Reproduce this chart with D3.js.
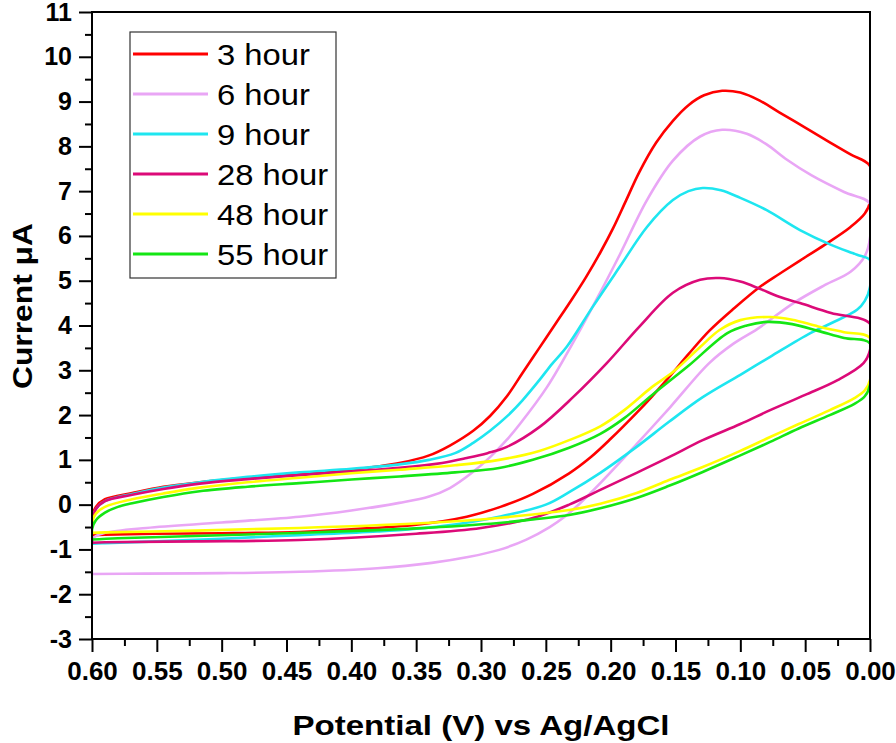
<!DOCTYPE html>
<html><head><meta charset="utf-8">
<script src="https://cdn.jsdelivr.net/npm/d3@7"></script>
<style>body{margin:0;background:#fff}svg{display:block}</style>
</head><body>
<svg id="chart" width="896" height="743"></svg>
<script>
// ---------- data ----------
const seriesNames = ["3 hour", "6 hour", "9 hour", "28 hour", "48 hour", "55 hour"];
const seriesColors = ["#ff0000", "#e9a6f5", "#1ee6f0", "#dc0a78", "#ffff00", "#14e614"];
const xTickLabels = [0.60, 0.55, 0.50, 0.45, 0.40, 0.35, 0.30, 0.25, 0.20, 0.15, 0.10, 0.05, 0.00];
const xMinorTicks = [0.575, 0.525, 0.475, 0.425, 0.375, 0.325, 0.275, 0.225, 0.175, 0.125, 0.075, 0.025];
const yTickLabels = [-3, -2, -1, 0, 1, 2, 3, 4, 5, 6, 7, 8, 9, 10, 11];
const yMinorTicks = [-2.5, -1.5, -0.5, 0.5, 1.5, 2.5, 3.5, 4.5, 5.5, 6.5, 7.5, 8.5, 9.5, 10.5];

// potential (V), current (µA) — each loop: forward sweep 0.6 -> 0, then back 0 -> 0.6
const cv3h = [[0.600,-0.68],[0.600,-0.30],[0.597,-0.05],[0.590,0.12],[0.569,0.26],[0.545,0.40],[0.517,0.50],[0.480,0.60],[0.440,0.68],[0.400,0.78],[0.363,0.93],[0.340,1.10],[0.324,1.32],[0.306,1.65],[0.293,1.98],[0.280,2.42],[0.268,2.94],[0.255,3.50],[0.242,4.06],[0.230,4.58],[0.219,5.08],[0.208,5.63],[0.198,6.18],[0.188,6.80],[0.178,7.42],[0.165,8.08],[0.152,8.57],[0.140,8.92],[0.128,9.14],[0.114,9.24],[0.100,9.20],[0.085,9.02],[0.070,8.76],[0.050,8.42],[0.031,8.09],[0.015,7.82],[0.000,7.56],
  [0.000,6.75],[0.004,6.50],[0.015,6.20],[0.035,5.80],[0.054,5.45],[0.070,5.15],[0.085,4.86],[0.105,4.38],[0.124,3.88],[0.140,3.36],[0.154,2.88],[0.168,2.42],[0.180,2.05],[0.200,1.47],[0.215,1.07],[0.232,0.70],[0.260,0.24],[0.285,-0.05],[0.311,-0.27],[0.350,-0.45],[0.400,-0.55],[0.440,-0.61],[0.500,-0.64],[0.550,-0.65],[0.590,-0.67],[0.600,-0.68]];
const cv6h = [[0.600,-1.55],[0.600,-0.85],[0.598,-0.72],[0.590,-0.63],[0.558,-0.52],[0.500,-0.40],[0.440,-0.27],[0.400,-0.13],[0.363,0.04],[0.340,0.18],[0.324,0.37],[0.307,0.71],[0.293,1.06],[0.280,1.45],[0.270,1.80],[0.249,2.63],[0.229,3.62],[0.208,4.74],[0.193,5.58],[0.172,6.80],[0.152,7.68],[0.131,8.22],[0.114,8.37],[0.095,8.28],[0.080,8.05],[0.064,7.70],[0.045,7.35],[0.020,6.98],[0.000,6.72],
  [0.000,5.95],[0.004,5.55],[0.015,5.20],[0.035,4.90],[0.059,4.50],[0.087,3.92],[0.105,3.60],[0.124,3.16],[0.154,2.18],[0.180,1.35],[0.208,0.48],[0.224,0.02],[0.235,-0.26],[0.247,-0.50],[0.265,-0.78],[0.286,-1.01],[0.310,-1.17],[0.338,-1.30],[0.380,-1.42],[0.440,-1.50],[0.500,-1.53],[0.560,-1.54],[0.600,-1.55]];
const cv9h = [[0.600,-0.87],[0.600,-0.40],[0.597,-0.10],[0.590,0.08],[0.569,0.24],[0.545,0.38],[0.517,0.50],[0.480,0.62],[0.440,0.72],[0.400,0.80],[0.363,0.90],[0.340,1.00],[0.320,1.15],[0.306,1.38],[0.293,1.65],[0.280,1.97],[0.268,2.33],[0.255,2.78],[0.245,3.15],[0.234,3.52],[0.214,4.41],[0.193,5.31],[0.172,6.20],[0.152,6.80],[0.140,7.00],[0.129,7.07],[0.115,7.02],[0.100,6.85],[0.080,6.58],[0.054,6.13],[0.030,5.80],[0.010,5.58],[0.000,5.46],
  [0.000,4.86],[0.004,4.55],[0.010,4.35],[0.030,4.05],[0.046,3.83],[0.077,3.30],[0.100,2.90],[0.129,2.40],[0.155,1.85],[0.180,1.29],[0.208,0.71],[0.232,0.28],[0.250,0.00],[0.286,-0.27],[0.330,-0.48],[0.380,-0.60],[0.440,-0.68],[0.500,-0.76],[0.550,-0.82],[0.590,-0.86],[0.600,-0.87]];
const cv28h = [[0.600,-0.85],[0.600,-0.40],[0.597,-0.10],[0.590,0.08],[0.569,0.22],[0.545,0.35],[0.517,0.47],[0.480,0.57],[0.440,0.66],[0.400,0.74],[0.363,0.82],[0.330,0.93],[0.311,1.04],[0.295,1.15],[0.280,1.29],[0.255,1.73],[0.229,2.40],[0.203,3.16],[0.178,3.97],[0.152,4.73],[0.131,5.02],[0.116,5.06],[0.100,4.98],[0.085,4.82],[0.070,4.64],[0.054,4.50],[0.030,4.28],[0.000,4.04],
  [0.000,3.45],[0.005,3.16],[0.025,2.78],[0.050,2.45],[0.077,2.11],[0.100,1.80],[0.129,1.44],[0.155,1.06],[0.180,0.71],[0.208,0.33],[0.232,0.00],[0.260,-0.30],[0.300,-0.52],[0.350,-0.65],[0.440,-0.79],[0.520,-0.82],[0.590,-0.84],[0.600,-0.85]];
const cv48h = [[0.600,-0.63],[0.600,-0.40],[0.597,-0.20],[0.590,-0.05],[0.569,0.12],[0.545,0.25],[0.517,0.38],[0.480,0.50],[0.440,0.60],[0.400,0.70],[0.363,0.78],[0.320,0.88],[0.286,1.00],[0.255,1.20],[0.232,1.44],[0.208,1.75],[0.190,2.10],[0.168,2.63],[0.152,2.96],[0.131,3.52],[0.116,3.90],[0.100,4.12],[0.077,4.19],[0.060,4.13],[0.040,3.98],[0.020,3.85],[0.000,3.72],
  [0.000,2.78],[0.004,2.55],[0.012,2.38],[0.031,2.11],[0.055,1.80],[0.077,1.51],[0.100,1.20],[0.129,0.84],[0.155,0.55],[0.180,0.26],[0.208,0.02],[0.232,-0.12],[0.260,-0.22],[0.300,-0.33],[0.350,-0.42],[0.440,-0.52],[0.520,-0.58],[0.590,-0.62],[0.600,-0.63]];
const cv55h = [[0.600,-0.78],[0.600,-0.55],[0.597,-0.35],[0.590,-0.18],[0.580,-0.05],[0.569,0.03],[0.545,0.17],[0.517,0.30],[0.480,0.40],[0.440,0.48],[0.400,0.56],[0.363,0.63],[0.320,0.72],[0.286,0.82],[0.260,1.00],[0.232,1.27],[0.208,1.58],[0.190,1.92],[0.168,2.45],[0.140,3.10],[0.110,3.83],[0.095,4.00],[0.080,4.08],[0.060,4.03],[0.040,3.88],[0.020,3.72],[0.000,3.60],
  [0.000,2.67],[0.004,2.42],[0.012,2.25],[0.031,2.00],[0.055,1.70],[0.077,1.40],[0.100,1.10],[0.129,0.73],[0.155,0.42],[0.180,0.15],[0.208,-0.08],[0.232,-0.23],[0.260,-0.33],[0.286,-0.41],[0.350,-0.53],[0.440,-0.63],[0.520,-0.70],[0.580,-0.75],[0.600,-0.78]];
const seriesData = [cv3h, cv6h, cv9h, cv28h, cv48h, cv55h];

// ---------- layout ----------
const FONT = "'Liberation Sans', Arial, Helvetica, sans-serif";
const plot = {left: 92, right: 870, top: 12, bottom: 639};
const svg = d3.select("#chart");

const x = d3.scaleLinear().domain([0.6, 0]).range([plot.left, plot.right]);
const y = d3.scaleLinear().domain([-3, 11]).range([plot.bottom, plot.top]);

svg.append("defs").append("clipPath").attr("id", "clip")
  .append("rect").attr("x", plot.left).attr("y", plot.top)
  .attr("width", plot.right - plot.left).attr("height", plot.bottom - plot.top);

// curves
const line = d3.line().x(d => x(d[0])).y(d => y(d[1])).curve(d3.curveCatmullRom.alpha(0.5));
const gCurves = svg.append("g").attr("clip-path", "url(#clip)");
seriesData.forEach((data, i) => {
  gCurves.append("path").datum(data)
    .attr("d", line).attr("fill", "none")
    .attr("stroke", seriesColors[i]).attr("stroke-width", 2.6)
    .attr("stroke-linejoin", "round");
});

// axes
function styleAxis(g) {
  g.select(".domain").remove();
  g.selectAll(".tick line").attr("stroke", "#000").attr("stroke-width", 2);
  g.selectAll(".tick text").attr("fill", "#000").attr("font-family", FONT).attr("font-weight", "bold");
}
const yAxis = svg.append("g").attr("transform", `translate(${plot.left},0)`)
  .call(d3.axisLeft(y).tickValues(yTickLabels).tickSize(13).tickPadding(7).tickFormat(d => String(d)));
styleAxis(yAxis);
yAxis.selectAll(".tick text").attr("font-size", 25);
const yMinor = svg.append("g").attr("transform", `translate(${plot.left},0)`)
  .call(d3.axisLeft(y).tickValues(yMinorTicks).tickSize(7).tickFormat(""));
styleAxis(yMinor);

const xAxis = svg.append("g").attr("transform", `translate(0,${plot.bottom})`)
  .call(d3.axisBottom(x).tickValues(xTickLabels).tickSize(13).tickPadding(10).tickFormat(d => d.toFixed(2)));
styleAxis(xAxis);
xAxis.selectAll(".tick text").attr("font-size", 26);
const xMinor = svg.append("g").attr("transform", `translate(0,${plot.bottom})`)
  .call(d3.axisBottom(x).tickValues(xMinorTicks).tickSize(7).tickFormat(""));
styleAxis(xMinor);

// frame
svg.append("rect").attr("x", plot.left).attr("y", plot.top)
  .attr("width", plot.right - plot.left).attr("height", plot.bottom - plot.top)
  .attr("fill", "none").attr("stroke", "#000").attr("stroke-width", 2);

// axis titles
svg.append("text").attr("x", (plot.left + plot.right) / 2).attr("y", 735)
  .attr("text-anchor", "middle").attr("font-family", FONT).attr("font-weight", "bold")
  .attr("font-size", 28).attr("textLength", 377).attr("lengthAdjust", "spacingAndGlyphs")
  .text("Potential (V) vs Ag/AgCl");
svg.append("text").attr("transform", "translate(32,306) rotate(-90)")
  .attr("text-anchor", "middle").attr("font-family", FONT).attr("font-weight", "bold")
  .attr("font-size", 27).attr("textLength", 166).attr("lengthAdjust", "spacingAndGlyphs")
  .text("Current \u03bcA");

// legend
const legend = {x: 130, y: 32, w: 206, h: 246, rowY0: 54, rowStep: 40};
svg.append("rect").attr("x", legend.x).attr("y", legend.y).attr("width", legend.w).attr("height", legend.h)
  .attr("fill", "#fff").attr("stroke", "#333").attr("stroke-width", 1.2);
seriesNames.forEach((name, i) => {
  const ly = legend.rowY0 + i * legend.rowStep;
  svg.append("line").attr("x1", 133).attr("x2", 208).attr("y1", ly).attr("y2", ly)
    .attr("stroke", seriesColors[i]).attr("stroke-width", 2.8);
  svg.append("text").attr("transform", `translate(217,${ly + 10.5}) scale(1.13,1)`)
    .attr("font-family", FONT).attr("font-size", 29).attr("fill", "#000").text(name);
});
</script>
</body></html>
